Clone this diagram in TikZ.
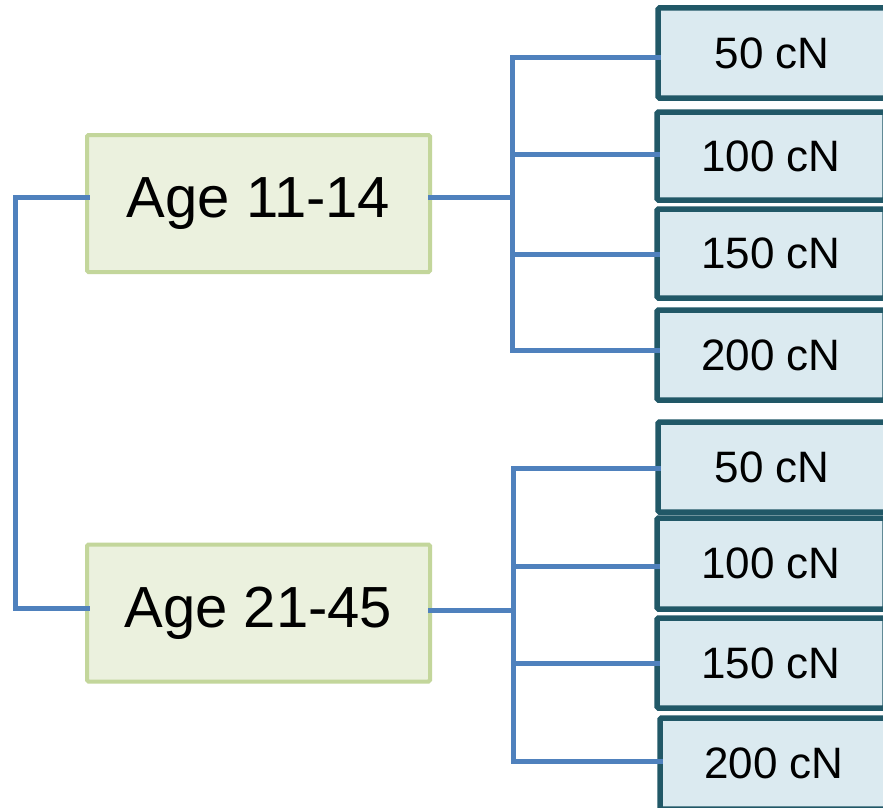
\documentclass[tikz,border=0pt]{standalone}
\usepackage{fontspec}
\setmainfont{Liberation Sans}
\definecolor{agefill}{HTML}{EBF1DE}
\definecolor{ageborder}{HTML}{C3D69B}
\definecolor{forcefill}{HTML}{DBEAF0}
\definecolor{forceborder}{HTML}{215867}
\definecolor{conn}{HTML}{4F81BD}
\tikzset{
  agebox/.style={draw=ageborder, fill=agefill, line width=4pt, rounded corners=1.5pt,
    inner sep=0pt, outer sep=0pt, minimum width=343pt, minimum height=137pt,
    font=\fontsize{58}{60}\selectfont},
  forcebox/.style={draw=forceborder, fill=forcefill, line width=5.5pt, rounded corners=1.5pt,
    inner sep=0pt, outer sep=0pt, minimum width=228pt,
    font=\fontsize{44}{46}\selectfont},
  connector/.style={draw=conn, line width=5pt, line cap=rect}
}
\begin{document}
\begin{tikzpicture}[x=1pt,y=-1pt]
\useasboundingbox (0,0) rectangle (883,808);
\clip (0,0) rectangle (883,808);
\fill[white] (0,0) rectangle (883,808);
% age boxes
\node[agebox] (a1) at (258.5,203.5) {Age 11-14};
\node[agebox] (a2) at (258.5,613) {Age 21-45};
% force boxes, top group
\node[forcebox, minimum height=90pt] (t1) at (772,53) {50 cN};
\node[forcebox, minimum height=88pt] (t2) at (771,156) {100 cN};
\node[forcebox, minimum height=89pt] (t3) at (771,253.5) {150 cN};
\node[forcebox, minimum height=90pt] (t4) at (771,355) {200 cN};
% force boxes, bottom group
\node[forcebox, minimum height=90pt] (b1) at (772,467) {50 cN};
\node[forcebox, minimum height=91pt] (b2) at (771,563.5) {100 cN};
\node[forcebox, minimum height=90pt] (b3) at (771,663) {150 cN};
\node[forcebox, minimum height=91pt] (b4) at (774,763.5) {200 cN};
% left connector
\coordinate (L1) at (15,197);
\coordinate (L2) at (15,608);
\draw[connector] (a1.west |- L1) -- (L1) -- (L2) -- (a2.west |- L2);
% top group connectors
\coordinate (TJ) at (512,197);
\coordinate (T1) at (512,58);
\coordinate (T4) at (512,350);
\draw[connector] (a1.east |- TJ) -- (TJ);
\draw[connector] (t1.west |- T1) -- (T1) -- (T4) -- (t4.west |- T4);
\draw[connector] (T1 |- 0,154) -- (t2.west |- 0,154);
\draw[connector] (T1 |- 0,254) -- (t3.west |- 0,254);
% bottom group connectors
\coordinate (BJ) at (513,610);
\coordinate (B1) at (513,468);
\coordinate (B4) at (513,761);
\draw[connector] (a2.east |- BJ) -- (BJ);
\draw[connector] (b1.west |- B1) -- (B1) -- (B4) -- (b4.west |- B4);
\draw[connector] (B1 |- 0,566) -- (b2.west |- 0,566);
\draw[connector] (B1 |- 0,663) -- (b3.west |- 0,663);
\end{tikzpicture}
\end{document}
